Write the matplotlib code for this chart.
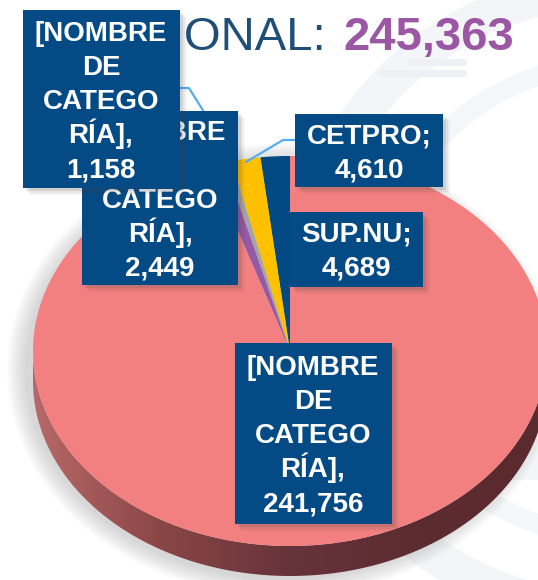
import numpy as np
import matplotlib
matplotlib.use('Agg')
import matplotlib.pyplot as plt
from matplotlib.patches import Rectangle, Polygon, Ellipse, Arc
from matplotlib.colors import LinearSegmentedColormap

# data
categories = ['SUP.NU', 'CETPRO', '[NOMBRE DE CATEGORÍA]', '[NOMBRE DE CATEGORÍA]', '[NOMBRE DE CATEGORÍA]']
values = [4689, 4610, 1158, 2449, 241756]
slice_colors = ['#034a84', '#ffc000', '#a5a5a5', '#9559a6', '#f28080']
title_left = 'NACIONAL:'
title_total = 245363

# label boxes in pixels (centre x, centre y, width, height), same order as values
box_geom = [(356, 249, 133, 75), (369, 150, 148, 73), (101, 99, 157, 178),
            (160, 198, 156, 174), (313, 433, 157, 181)]
draw_order = [3, 2, 1, 0, 4]

W, H = 538, 580
box_color = '#044a84'
line_color = '#55acee'


def label_lines(cat, val):
    if cat.startswith('[NOMBRE'):
        return ['[NOMBRE', 'DE', 'CATEGO', 'RÍA],', f'{val:,}']
    return [cat + ';', f'{val:,}']


fig = plt.figure(figsize=(W / 100, H / 100), dpi=100)
fig.patch.set_facecolor('white')

# faint watermark behind everything
bg = fig.add_axes([0, 0, 1, 1], zorder=0)
bg.set_xlim(0, W)
bg.set_ylim(H, 0)
bg.axis('off')
bg.add_patch(Arc((610, 300), 620, 620, theta1=90, theta2=270, lw=26, color='#f4f5f8'))
bg.add_patch(Arc((610, 300), 470, 470, theta1=100, theta2=260, lw=14, color='#f5f6f9'))
bg.plot([410, 463], [62, 62], color='#eef0f4', lw=5, solid_capstyle='round')
bg.plot([380, 463], [73, 73], color='#eef0f4', lw=5, solid_capstyle='round')
bg.add_patch(Rectangle((470, 390), 70, 90, color='#f4f5f8', lw=0))

# pie axes: unit circle squashed to an ellipse
cx, cy, rx, ry = 290, 351, 257, 195
depth = 30 / ry
ylo, yhi = -1 - depth - 0.1, 1.05
left = (cx - rx) / W
bottom = (H - (cy - ylo * ry)) / H
axp = fig.add_axes([left, bottom, 2 * rx / W, (yhi - ylo) * ry / H], zorder=1)
axp.patch.set_visible(False)

wedges, _ = axp.pie(values, colors=slice_colors, startangle=90, counterclock=True,
                    radius=1, wedgeprops=dict(linewidth=0, zorder=4))
axp.set_aspect('auto')
axp.axis('off')

# soft shadow
for k in np.linspace(0.0, 0.07, 9):
    axp.add_patch(Ellipse((-0.03, -depth / 2 - 0.02), 2 + 2 * k, 2 + depth + 2.4 * k,
                          color='#7a7a7a', alpha=0.035, lw=0, zorder=1, clip_on=False))

# side band of the 3D pie
t = np.linspace(np.pi, 2 * np.pi, 200)
top_edge = np.column_stack([np.cos(t), np.sin(t)])
bot_edge = np.column_stack([np.cos(t[::-1]), np.sin(t[::-1]) - depth])
side = Polygon(np.vstack([top_edge, bot_edge]), closed=True, fc='none', lw=0)
axp.add_patch(side)
side_cmap = LinearSegmentedColormap.from_list('side', ['#b86868', '#8a4646', '#66333a', '#5c2c30', '#5a2a2e'])
grad = np.linspace(0, 1, 256).reshape(1, -1)
im = axp.imshow(grad, cmap=side_cmap, extent=[-1, 1, -1 - depth, 0], aspect='auto', zorder=3,
                origin='lower')
im.set_clip_path(side)
axp.set_xlim(-1, 1)
axp.set_ylim(ylo, yhi)

# overlay: title, leader lines, label boxes
ax = fig.add_axes([0, 0, 1, 1], zorder=5)
ax.set_xlim(0, W)
ax.set_ylim(H, 0)
ax.axis('off')

ax.text(326, 50, title_left, ha='right', va='baseline', fontsize=34, color='#1f4e79',
        family='Liberation Sans', zorder=2)
ax.text(343, 50, f'{title_total:,}', ha='left', va='baseline', fontsize=34, color='#9b57a3',
        family='Liberation Sans', fontweight='bold', zorder=2)

ax.plot([180, 189, 204], [88, 88, 112], color=line_color, lw=1.6, zorder=3)
ax.plot([295, 283, 246], [140, 140, 162], color=line_color, lw=1.6, zorder=3)

step = 34
z = 10
for i in draw_order:
    bx, by, bw, bh = box_geom[i]
    for s, a in [(7, 0.05), (5, 0.08), (3, 0.12)]:
        ax.add_patch(Rectangle((bx - bw / 2 + s, by - bh / 2 + s), bw, bh, fc='#404040',
                               alpha=a, lw=0, zorder=z))
    ax.add_patch(Rectangle((bx - bw / 2, by - bh / 2), bw, bh, fc=box_color, lw=0, zorder=z + 1))
    lines = label_lines(categories[i], values[i])
    n = len(lines)
    for j, ln in enumerate(lines):
        yy = by + (j - (n - 1) / 2) * step + 10
        ax.text(bx, yy, ln, ha='center', va='baseline', color='white', fontsize=20,
                fontweight='bold', family='Liberation Sans', zorder=z + 2)
    z += 3

fig.savefig('out.png', dpi=100, facecolor='white')
